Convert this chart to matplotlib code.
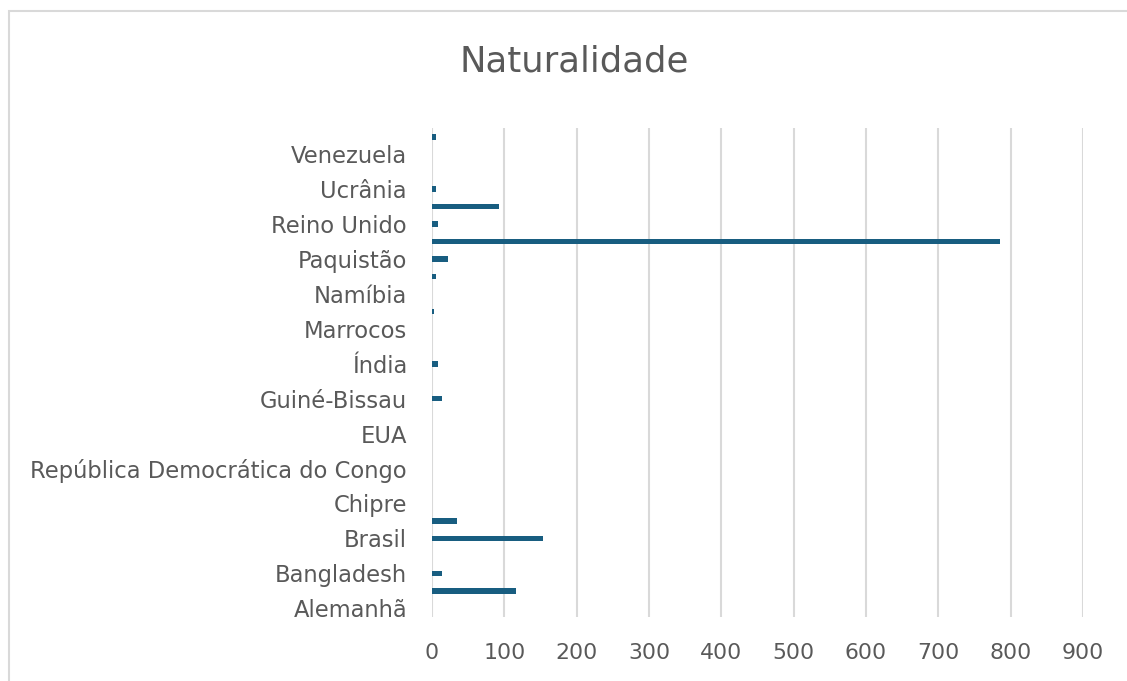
import matplotlib
matplotlib.use("Agg")
import matplotlib.pyplot as plt
from matplotlib.patches import Rectangle

# categorias (de baixo para cima, como no Excel)
paises = ["Alemanhã", "Angola", "Bangladesh", "Bélgica", "Brasil", "Cabo Verde",
          "Chipre", "Colômbia", "República Democrática do Congo", "Espanha", "EUA",
          "França", "Guiné-Bissau", "Holanda", "Índia", "Itália", "Marrocos",
          "Moçambique", "Namíbia", "Nepal", "Paquistão", "Portugal", "Reino Unido",
          "São Tomé e Príncipe", "Ucrânia", "Uruguai", "Venezuela", "Outra"]
valores = [0, 116, 14, 0, 154, 35, 0, 0, 0, 0, 0, 0, 14, 0, 8, 0, 0, 3, 0, 5,
           22, 785, 8, 92, 5, 0, 0, 6]
xticks = [0, 100, 200, 300, 400, 500, 600, 700, 800, 900]

W, H = 1127, 681
plt.rcParams["font.family"] = ["DejaVu Sans"]
fig = plt.figure(figsize=(W / 100, H / 100), dpi=100)
ax = fig.add_axes([432 / W, 1 - 617 / H, (1083 - 432) / W, (617 - 128) / H])

pos = list(range(len(paises)))
ax.barh(pos, valores, height=0.32, color="#185D80", zorder=3)

ax.set_xlim(0, 900)
ax.set_ylim(-0.5, len(paises) - 0.5)
ax.set_xticks(xticks)
ax.set_xticklabels([str(v) for v in xticks])
# Excel so mostra um rotulo em cada dois
ax.set_yticks(pos[::2])
ax.set_yticklabels(paises[::2])

ax.grid(axis="x", color="#D9D9D9", linewidth=1.5, zorder=0)
for s in ax.spines.values():
    s.set_visible(False)
ax.tick_params(axis="both", length=0, colors="#595959")
ax.tick_params(axis="y", pad=18, labelsize=16.3)
ax.tick_params(axis="x", pad=19, labelsize=15.8)

fig.text(574 / W, 1 - 62 / H, "Naturalidade", ha="center", va="center",
         fontsize=25.5, color="#595959")

# moldura do grafico
fig.patches.append(Rectangle((8.5 / W, -0.1), 1.2, 1 - 10.5 / H + 0.1,
                             transform=fig.transFigure, fill=False,
                             edgecolor="#D9D9D9", linewidth=1.5))

fig.savefig("out.png", dpi=100)
